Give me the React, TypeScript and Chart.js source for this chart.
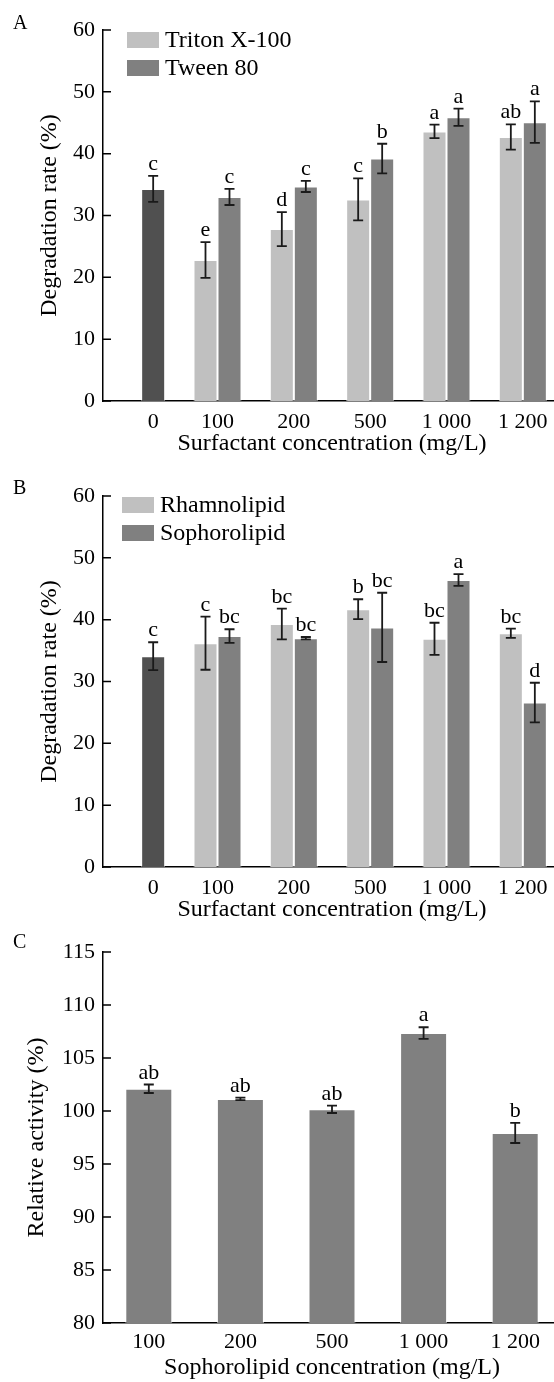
import React, { useEffect, useRef } from 'react';
import { Chart, registerables } from 'chart.js';

Chart.register(...registerables);

const FONT = '"Liberation Serif", "Times New Roman", serif';
const LIGHT = '#c0c0c0';
const DARK = '#808080';
const CONTROL = '#505050';
const EDGE = 'rgba(255,255,255,0.6)';

// ---------- Panel A ----------
const concA = ['0', '100', '200', '500', '1 000', '1 200'];
const tritonA = [null, 22.8, 27.8, 32.6, 43.6, 42.7];
const tritonErrA = [null, 2.9, 2.75, 3.4, 1.1, 2.05];
const tritonLettersA = [null, 'e', 'd', 'c', 'a', 'ab'];
const tweenA = [34.3, 33.0, 34.7, 39.2, 45.9, 45.1];
const tweenErrA = [2.1, 1.3, 0.9, 2.4, 1.4, 3.35];
const tweenLettersA = ['c', 'c', 'c', 'b', 'a', 'a'];

// ---------- Panel B ----------
const concB = ['0', '100', '200', '500', '1 000', '1 200'];
const rhamnoB = [null, 36.2, 39.3, 41.7, 36.9, 37.8];
const rhamnoErrB = [null, 4.3, 2.5, 1.6, 2.6, 0.75];
const rhamnoLettersB = [null, 'c', 'bc', 'b', 'bc', 'bc'];
const sophoB = [34.1, 37.35, 37.0, 38.75, 46.4, 26.6];
const sophoErrB = [2.25, 1.1, 0.2, 5.6, 0.95, 3.2];
const sophoLettersB = ['c', 'bc', 'bc', 'bc', 'a', 'd'];

// ---------- Panel C ----------
const concC = ['100', '200', '500', '1 000', '1 200'];
const activityC = [102.1, 101.14, 100.16, 107.35, 97.93];
const activityErrC = [0.4, 0.12, 0.35, 0.55, 0.95];
const activityLettersC = ['ab', 'ab', 'ab', 'a', 'b'];

const yRangeAB = [0, 60, 10];
const yRangeC = [80, 115, 5];

type AnnotCfg = {
  errors: (number | null)[][];
  letters: (string | null)[][];
  labels: string[];
  labelGap: number;
  legend: { text: string; color: string }[];
  legendX: number;
  legendY: number;
  panel: string;
  panelX: number;
  panelY: number;
};

function makeAnnot(cfg: AnnotCfg) {
  return {
    id: 'annot',
    afterDraw(chart: any) {
      const ctx = chart.ctx;
      const area = chart.chartArea;
      const y = chart.scales.y;
      ctx.save();
      // inward y tick marks
      ctx.strokeStyle = '#000';
      ctx.lineWidth = 1.5;
      ctx.beginPath();
      y.ticks.forEach((t: any) => {
        const py = y.getPixelForValue(t.value);
        ctx.moveTo(area.left, py);
        ctx.lineTo(area.left + 8, py);
      });
      ctx.stroke();

      // error bars + letters
      ctx.lineWidth = 1.8;
      ctx.strokeStyle = '#1a1a1a';
      ctx.fillStyle = '#000';
      ctx.font = `22px ${FONT}`;
      ctx.textAlign = 'center';
      ctx.textBaseline = 'alphabetic';
      chart.data.datasets.forEach((ds: any, di: number) => {
        const meta = chart.getDatasetMeta(di);
        const errs = cfg.errors[di];
        const lets = cfg.letters[di];
        meta.data.forEach((bar: any, i: number) => {
          const v = ds.data[i];
          if (v == null) return;
          const e = errs[i] ?? 0;
          const x = bar.x;
          const yt = y.getPixelForValue(v + e);
          const yb = y.getPixelForValue(v - e);
          ctx.beginPath();
          ctx.moveTo(x, yt);
          ctx.lineTo(x, yb);
          ctx.moveTo(x - 5, yt);
          ctx.lineTo(x + 5, yt);
          ctx.moveTo(x - 5, yb);
          ctx.lineTo(x + 5, yb);
          ctx.stroke();
          if (lets[i]) ctx.fillText(lets[i], x, yt - 6);
        });
      });

      // category labels centred under the drawn bars
      ctx.font = `22px ${FONT}`;
      cfg.labels.forEach((lab, i) => {
        let l = Infinity;
        let r = -Infinity;
        chart.data.datasets.forEach((ds: any, di: number) => {
          if (ds.data[i] == null) return;
          const bar = chart.getDatasetMeta(di).data[i];
          l = Math.min(l, bar.x - bar.width / 2);
          r = Math.max(r, bar.x + bar.width / 2);
        });
        if (isFinite(l)) ctx.fillText(lab, (l + r) / 2, area.bottom + cfg.labelGap);
      });

      // legend
      ctx.textAlign = 'left';
      ctx.font = `24px ${FONT}`;
      cfg.legend.forEach((item, k) => {
        const by = cfg.legendY + k * 28;
        ctx.fillStyle = item.color;
        ctx.fillRect(cfg.legendX, by, 32, 16);
        ctx.fillStyle = '#000';
        ctx.fillText(item.text, cfg.legendX + 38, by + 15);
      });

      // panel letter
      ctx.font = `20px ${FONT}`;
      ctx.fillText(cfg.panel, cfg.panelX, cfg.panelY);
      ctx.restore();
    },
  };
}

type PanelCfg = {
  labels: string[];
  series: (number | null)[][];
  names: string[];
  colors: string[];
  catPct: number;
  yRange: number[];
  xTitle: string;
  yTitle: string;
  padLeft: number;
  padTop: number;
  yAxisW: number;
  xAxisH: number;
  annot: AnnotCfg;
};

function buildConfig(p: PanelCfg): any {
  const datasets = p.series.map((s, k) => ({
    label: p.names[k],
    data: s,
    backgroundColor:
      k === 1 && p.series.length > 1
        ? s.map((_, i) => (p.series[0][i] == null ? CONTROL : p.colors[k]))
        : p.colors[k],
    borderColor: EDGE,
    borderWidth: 1,
    borderSkipped: 'start',
    categoryPercentage: p.catPct,
    barPercentage: 1,
  }));
  const axisFont = { family: FONT, size: 24 };
  return {
    type: 'bar',
    data: { labels: p.labels, datasets },
    options: {
      responsive: false,
      animation: false,
      devicePixelRatio: 1,
      layout: { padding: { left: p.padLeft, top: p.padTop, right: 0, bottom: 0 } },
      plugins: { legend: { display: false }, tooltip: { enabled: false } },
      scales: {
        x: {
          type: 'category',
          offset: true,
          grid: { display: false, drawTicks: false },
          border: { display: true, color: '#000', width: 1.5 },
          ticks: { display: false },
          title: { display: true, text: p.xTitle, color: '#000', font: axisFont, padding: { top: 4, bottom: 4 } },
          afterFit: (s: any) => {
            s.height = p.xAxisH;
          },
        },
        y: {
          min: p.yRange[0],
          max: p.yRange[1],
          ticks: { stepSize: p.yRange[2], color: '#000', font: { family: FONT, size: 22 }, padding: 8 },
          grid: { display: false, drawTicks: false },
          border: { display: true, color: '#000', width: 1.5 },
          title: { display: true, text: p.yTitle, color: '#000', font: axisFont, padding: { top: 4, bottom: 4 } },
          afterFit: (s: any) => {
            s.width = p.yAxisW;
          },
        },
      },
    },
    plugins: [makeAnnot(p.annot)],
  };
}

function Panel({ top, height, cfg }: { top: number; height: number; cfg: PanelCfg }) {
  const ref = useRef<HTMLCanvasElement>(null);
  useEffect(() => {
    const chart = new Chart(ref.current as HTMLCanvasElement, buildConfig(cfg));
    return () => chart.destroy();
  }, []);
  return (
    <canvas
      ref={ref}
      width={561}
      height={height}
      style={{ position: 'absolute', left: 0, top, display: 'block' }}
    />
  );
}

const panelA: PanelCfg = {
  labels: concA,
  series: [tritonA, tweenA],
  names: ['Triton X-100', 'Tween 80'],
  colors: [LIGHT, DARK],
  catPct: 0.629,
  yRange: yRangeAB,
  xTitle: 'Surfactant concentration (mg/L)',
  yTitle: 'Degradation rate (%)',
  padLeft: 31,
  padTop: 30,
  yAxisW: 72,
  xAxisH: 61,
  annot: {
    errors: [tritonErrA, tweenErrA],
    letters: [tritonLettersA, tweenLettersA],
    labels: concA,
    labelGap: 27,
    legend: [
      { text: 'Triton X-100', color: LIGHT },
      { text: 'Tween 80', color: DARK },
    ],
    legendX: 127,
    legendY: 32,
    panel: 'A',
    panelX: 13,
    panelY: 29,
  },
};

const panelB: PanelCfg = {
  labels: concB,
  series: [rhamnoB, sophoB],
  names: ['Rhamnolipid', 'Sophorolipid'],
  colors: [LIGHT, DARK],
  catPct: 0.629,
  yRange: yRangeAB,
  xTitle: 'Surfactant concentration (mg/L)',
  yTitle: 'Degradation rate (%)',
  padLeft: 31,
  padTop: 30,
  yAxisW: 72,
  xAxisH: 61,
  annot: {
    errors: [rhamnoErrB, sophoErrB],
    letters: [rhamnoLettersB, sophoLettersB],
    labels: concB,
    labelGap: 27,
    legend: [
      { text: 'Rhamnolipid', color: LIGHT },
      { text: 'Sophorolipid', color: DARK },
    ],
    legendX: 122,
    legendY: 31,
    panel: 'B',
    panelX: 13,
    panelY: 28,
  },
};

const panelC: PanelCfg = {
  labels: concC,
  series: [activityC],
  names: ['Sophorolipid'],
  colors: [DARK],
  catPct: 0.513,
  yRange: yRangeC,
  xTitle: 'Sophorolipid concentration (mg/L)',
  yTitle: 'Relative activity (%)',
  padLeft: 18,
  padTop: 22,
  yAxisW: 85,
  xAxisH: 63,
  annot: {
    errors: [activityErrC],
    letters: [activityLettersC],
    labels: concC,
    labelGap: 25,
    legend: [],
    legendX: 0,
    legendY: 0,
    panel: 'C',
    panelX: 13,
    panelY: 18,
  },
};

export default function App() {
  return (
    <div
      style={{
        position: 'absolute',
        left: 0,
        top: 0,
        width: 554,
        height: 1382,
        overflow: 'hidden',
        background: '#fff',
      }}
    >
      <Panel top={0} height={462} cfg={panelA} />
      <Panel top={466} height={462} cfg={panelB} />
      <Panel top={930} height={456} cfg={panelC} />
    </div>
  );
}
